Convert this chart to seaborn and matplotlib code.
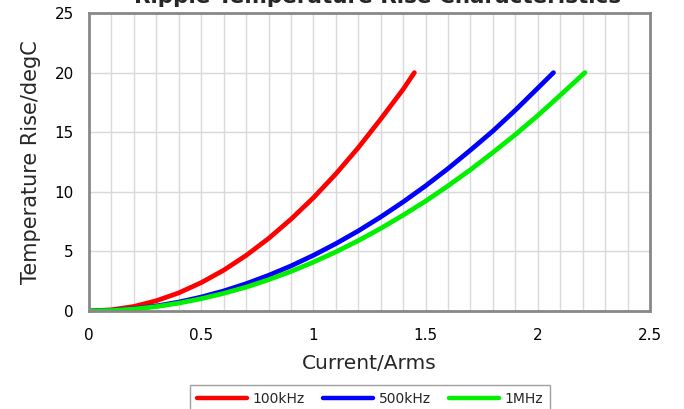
import numpy as np
import pandas as pd
import matplotlib
matplotlib.use("Agg")
import matplotlib.pyplot as plt
import seaborn as sns
from matplotlib.ticker import MultipleLocator

# ---- data ----
x_100k = [0, 0.1, 0.2, 0.3, 0.4, 0.5, 0.6, 0.7, 0.8, 0.9, 1.0, 1.1, 1.2, 1.3, 1.4, 1.45]
y_100k = [0, 0.1, 0.38, 0.86, 1.52, 2.38, 3.42, 4.66, 6.08, 7.7, 9.5, 11.5, 13.7, 16.1, 18.6, 20.0]

x_500k = [0, 0.1, 0.2, 0.3, 0.4, 0.5, 0.6, 0.7, 0.8, 0.9, 1.0, 1.1, 1.2, 1.3, 1.4,
          1.5, 1.6, 1.7, 1.8, 1.9, 2.0, 2.07]
y_500k = [0, 0.05, 0.19, 0.42, 0.75, 1.17, 1.68, 2.29, 2.99, 3.78, 4.67, 5.65, 6.72,
          7.89, 9.15, 10.5, 11.95, 13.5, 15.1, 16.85, 18.7, 20.0]

x_1m = [0, 0.1, 0.2, 0.3, 0.4, 0.5, 0.6, 0.7, 0.8, 0.9, 1.0, 1.1, 1.2, 1.3, 1.4,
        1.5, 1.6, 1.7, 1.8, 1.9, 2.0, 2.1, 2.21]
y_1m = [0, 0.04, 0.16, 0.37, 0.66, 1.03, 1.48, 2.0, 2.62, 3.32, 4.1, 4.96, 5.9,
        6.93, 8.04, 9.22, 10.5, 11.85, 13.3, 14.8, 16.4, 18.1, 20.0]

series_names = ["100kHz", "500kHz", "1MHz"]
series_colors = ["#ff0000", "#0000ff", "#00f000"]
x_ticks = [0, 0.5, 1, 1.5, 2, 2.5]
y_ticks = [0, 5, 10, 15, 20, 25]
title = "Ripple Temperature Rise Characteristics"
x_label = "Current/Arms"
y_label = "Temperature Rise/degC"

df = pd.concat([
    pd.DataFrame({"x": x_100k, "y": y_100k, "s": series_names[0]}),
    pd.DataFrame({"x": x_500k, "y": y_500k, "s": series_names[1]}),
    pd.DataFrame({"x": x_1m, "y": y_1m, "s": series_names[2]}),
], ignore_index=True)

sns.set_theme(style="white")
plt.rcParams["font.family"] = ["DejaVu Sans"]

fig = plt.figure(figsize=(6.84, 4.09), dpi=100)
ax = fig.add_axes([89 / 684, 1 - 311 / 409, (650 - 89) / 684, (311 - 13) / 409])

sns.lineplot(data=df, x="x", y="y", hue="s", palette=dict(zip(series_names, series_colors)),
             linewidth=3.4, ax=ax, sort=False, estimator=None, legend=True)
for ln in ax.get_lines():
    ln.set_solid_capstyle("round")

ax.set_xlim(0, 2.5)
ax.set_ylim(0, 25)
ax.set_xticks(x_ticks)
ax.set_xticklabels([f"{t:g}" for t in x_ticks])
ax.set_yticks(y_ticks)
ax.xaxis.set_minor_locator(MultipleLocator(0.1))
ax.grid(which="both", axis="x", color="#d9d9d9", linewidth=1)
ax.grid(which="major", axis="y", color="#d9d9d9", linewidth=1)
ax.set_axisbelow(True)
ax.tick_params(axis="both", which="both", length=0, labelsize=11, colors="black")
ax.tick_params(axis="x", pad=12)
ax.tick_params(axis="y", pad=11)
for sp in ax.spines.values():
    sp.set_color("#888888")
    sp.set_linewidth(2)

ax.set_xlabel(x_label, fontsize=14.5, labelpad=8)
ax.set_ylabel(y_label, fontsize=15, labelpad=10)
fig.text(378 / 684, 1 - 3 / 409, title, ha="center", va="baseline",
         fontsize=15.5, fontweight="bold")

ax.legend_.remove()
handles, labels = ax.get_legend_handles_labels()
leg = fig.legend(handles, labels, loc="upper center", bbox_to_anchor=(370 / 684, 1 - 385 / 409),
                 ncol=3, fontsize=10, frameon=True, fancybox=False, handlelength=3.6,
                 columnspacing=1.3, handletextpad=0.4, borderpad=0.5,
                 borderaxespad=0)
leg.get_frame().set_edgecolor("#888888")
leg.get_frame().set_linewidth(1)
for h in leg.legend_handles:
    h.set_linewidth(3.2)

fig.savefig("out.png", dpi=100)
